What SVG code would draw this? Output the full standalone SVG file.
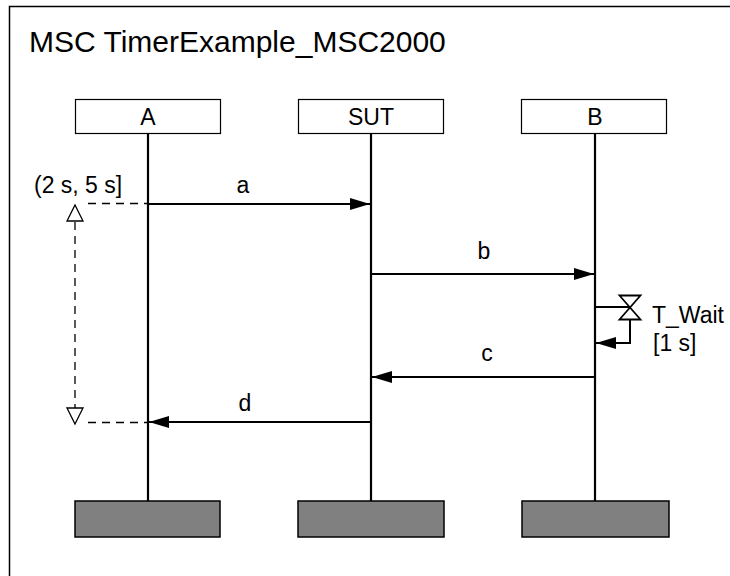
<svg xmlns="http://www.w3.org/2000/svg" width="730" height="576" viewBox="0 0 730 576">
<style>
text{font-family:"Liberation Sans",Arial,sans-serif;fill:#000}
.hdr{fill:#fff;stroke:#000;stroke-width:1.2}
.end{fill:#808080;stroke:#000;stroke-width:1.5}
.life{stroke:#000;stroke-width:2.2;fill:none}
.msg{stroke:#000;stroke-width:2;fill:none}
.dash{stroke:#000;stroke-width:1.3;fill:none;stroke-dasharray:8 6}
.lbl{font-size:23px;text-anchor:middle}
.t{font-size:23px}
</style>
<defs>
<marker id="ah" markerWidth="20" markerHeight="12" refX="20" refY="6" orient="auto" markerUnits="userSpaceOnUse">
<path d="M0,0 L20,6 L0,12 Z" fill="#000"/>
</marker>
</defs>
<rect x="9.5" y="6.5" width="760" height="600" fill="#fff" stroke="#000" stroke-width="1.5"/>
<text x="29" y="52" font-size="30">MSC TimerExample_MSC2000</text>
<g id="A">
<rect class="hdr" x="75.5" y="99.5" width="145" height="34"/>
<text class="lbl" x="148" y="125">A</text>
<line class="life" x1="148" y1="134" x2="148" y2="501"/>
<rect class="end" x="75" y="501" width="145" height="36"/>
</g>
<g id="SUT">
<rect class="hdr" x="298.5" y="99.5" width="145" height="34"/>
<text class="lbl" x="371" y="125">SUT</text>
<line class="life" x1="371" y1="134" x2="371" y2="501"/>
<rect class="end" x="298" y="501" width="146" height="36"/>
</g>
<g id="B">
<rect class="hdr" x="521.5" y="99.5" width="145" height="34"/>
<text class="lbl" x="595" y="125">B</text>
<line class="life" x1="595" y1="134" x2="595" y2="501"/>
<rect class="end" x="522" y="501" width="147" height="36"/>
</g>
<g id="connectors">
<line class="msg" x1="148" y1="204" x2="370" y2="204" marker-end="url(#ah)"/>
<text class="lbl" x="243" y="193">a</text>
<line class="msg" x1="371" y1="274" x2="594" y2="274" marker-end="url(#ah)"/>
<text class="lbl" x="484" y="259">b</text>
<line class="msg" x1="595" y1="377" x2="372" y2="377" marker-end="url(#ah)"/>
<text class="lbl" x="487" y="361">c</text>
<line class="msg" x1="371" y1="422" x2="149" y2="422" marker-end="url(#ah)"/>
<text class="lbl" x="245" y="411">d</text>
</g>
<g id="timer_T_Wait">
<line class="msg" x1="595" y1="307" x2="630" y2="307"/>
<path d="M619.5,295.5 L640.5,295.5 L619.5,319.5 L640.5,319.5 Z" fill="#fff" stroke="#000" stroke-width="1.8" stroke-linejoin="miter"/>
<polyline class="msg" points="630,319 630,343 596,343" marker-end="url(#ah)"/>
<text class="t" x="652" y="323">T_Wait</text>
<text class="t" x="653" y="351">[1 s]</text>
</g>
<g id="constraint">
<text class="t" x="34" y="193">(2 s, 5 s]</text>
<line class="dash" x1="88" y1="203.5" x2="148" y2="203.5"/>
<line class="dash" x1="88" y1="422.5" x2="148" y2="422.5"/>
<line class="dash" x1="75" y1="222" x2="75" y2="408"/>
<path d="M75,205 L83,221 L67,221 Z" fill="#fff" stroke="#000" stroke-width="1.3"/>
<path d="M75,424 L83,408 L67,408 Z" fill="#fff" stroke="#000" stroke-width="1.3"/>
</g>
</svg>
